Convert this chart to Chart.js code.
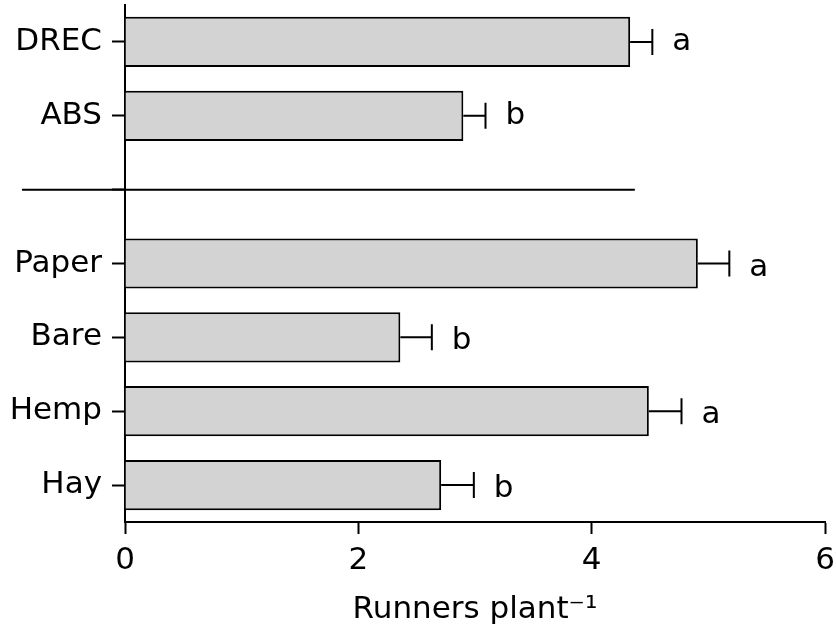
<!DOCTYPE html>
<html>
<head>
<meta charset="utf-8">
<script src="https://cdn.jsdelivr.net/npm/chart.js@4"></script>
<style>
  html, body { margin: 0; padding: 0; background: #fff; }
  #wrap { width: 836px; height: 631px; }
</style>
</head>
<body>
<div id="wrap"><canvas id="runners"></canvas></div>
<script>
// treatments, top to bottom; the empty slot splits the two experiments
const treatments = ['DREC', 'ABS', '', 'Paper', 'Bare', 'Hemp', 'Hay'];
const means = [4.33, 2.90, null, 4.91, 2.36, 4.49, 2.71];
const stdErr = [0.19, 0.19, null, 0.27, 0.27, 0.28, 0.28];
const letters = ['a', 'b', '', 'a', 'b', 'a', 'b'];
const xTicks = [0, 2, 4, 6];

const FONT = 'DejaVu Sans';

// error bars, significance letters and the divider line
const extras = {
  id: 'extras',
  afterDatasetsDraw(chart) {
    const c = chart.ctx;
    const x = chart.scales.x, y = chart.scales.y;
    const bars = chart.getDatasetMeta(0).data;
    c.save();
    c.strokeStyle = '#000';
    c.fillStyle = '#000';
    c.lineWidth = 2;
    means.forEach((m, i) => {
      if (m == null) return;
      const yc = bars[i].y;
      const x0 = x.getPixelForValue(m);
      const x1 = x.getPixelForValue(m + stdErr[i]);
      c.beginPath();
      c.moveTo(x0, yc);
      c.lineTo(x1, yc);
      c.moveTo(x1, yc - 13);
      c.lineTo(x1, yc + 13);
      c.stroke();
      c.font = '31px "' + FONT + '"';
      c.textAlign = 'left';
      c.textBaseline = 'middle';
      c.fillText(letters[i], x1 + 20, yc + (i > 2 ? 4 : 0));
    });
    // divider across the empty slot
    const yd = y.getPixelForValue(2);
    c.beginPath();
    c.moveTo(chart.chartArea.left - 103, yd);
    c.lineTo(x.getPixelForValue(4.37), yd);
    c.stroke();
    c.restore();
  }
};

new Chart(document.getElementById('runners'), {
  type: 'bar',
  data: {
    labels: treatments,
    datasets: [{
      data: means,
      backgroundColor: '#d3d3d3',
      borderColor: '#000',
      borderWidth: 2,
      barPercentage: 0.68,
      categoryPercentage: 1
    }]
  },
  options: {
    indexAxis: 'y',
    responsive: true,
    maintainAspectRatio: false,
    animation: false,
    layout: { padding: { top: 5, right: 11, left: 0, bottom: 0 } },
    plugins: { legend: { display: false }, tooltip: { enabled: false } },
    scales: {
      y: {
        type: 'category',
        afterFit(s) { s.width = 125; s.paddingTop = 0; s.paddingBottom = 0; },
        grid: { offset: false, drawOnChartArea: false, drawTicks: true, tickLength: 13, tickWidth: 2, tickColor: '#000' },
        border: { display: true, color: '#000', width: 2 },
        ticks: { color: '#000', padding: 10, font: { family: FONT, size: 31 } }
      },
      x: {
        min: 0,
        max: 6,
        afterFit(s) { s.height = 109; s.paddingLeft = 0; s.paddingRight = 0; },
        afterBuildTicks(s) { s.ticks = xTicks.map(v => ({ value: v })); },
        grid: { drawOnChartArea: false, drawTicks: true, tickLength: 12, tickWidth: 2, tickColor: '#000' },
        border: { display: true, color: '#000', width: 2 },
        ticks: { color: '#000', padding: 8, font: { family: FONT, size: 31 } },
        title: {
          display: true,
          text: 'Runners plant\u207B\u00B9',
          color: '#000',
          font: { family: FONT, size: 31 },
          padding: { top: 0, bottom: 2 }
        }
      }
    }
  },
  plugins: [extras]
});
</script>
</body>
</html>
